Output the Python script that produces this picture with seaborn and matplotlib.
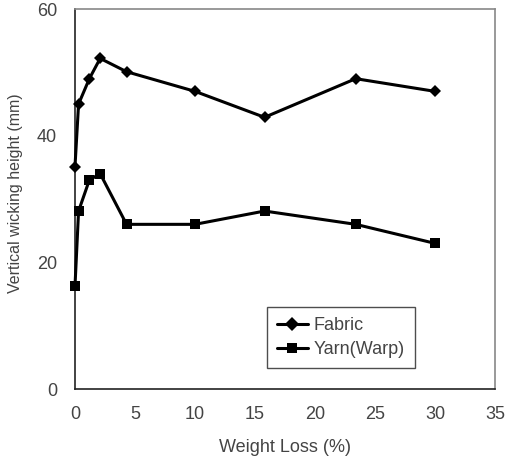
import pandas as pd
import matplotlib
matplotlib.use('Agg')
import matplotlib.pyplot as plt
import seaborn as sns

## datos
weight_loss = [0, 0.3, 1.2, 2.1, 4.3, 10, 15.8, 23.4, 30]
fabric = [35.1, 45.0, 49.0, 52.2, 50.1, 47.0, 42.9, 49.0, 47.0]
yarn = [16.2, 28.1, 33.0, 34.0, 26.0, 26.0, 28.1, 26.0, 23.0]
series_names = ['Fabric', 'Yarn(Warp)']

df = pd.DataFrame({
    'Weight Loss': weight_loss * 2,
    'Height': fabric + yarn,
    'Serie': [series_names[0]] * len(fabric) + [series_names[1]] * len(yarn),
})

sns.set_style('white')
plt.rcParams['font.family'] = ['Liberation Sans', 'DejaVu Sans']
txt = '#444444'

fig = plt.figure(figsize=(5.09, 4.62), dpi=100)
ax = fig.add_axes([0.1473, 0.158, 0.825, 0.8225])

sns.lineplot(data=df, x='Weight Loss', y='Height', hue='Serie', style='Serie',
             markers={'Fabric': 'D', 'Yarn(Warp)': 's'},
             dashes=False, palette={'Fabric': 'black', 'Yarn(Warp)': 'black'},
             markersize=7, linewidth=2.2, markeredgewidth=0, ax=ax)
# el rombo se ve un poco mas chico
ax.lines[0].set_markersize(6.5)
for ln in ax.lines:
    ln.set_clip_on(False)
    ln.set_zorder(5)

ax.set_xlim(0, 35)
ax.set_ylim(0, 60)
ax.set_xticks(range(0, 36, 5))
ax.set_yticks([0, 20, 40, 60])
ax.tick_params(direction='in', length=4, width=0.8, colors='#555555',
               labelcolor=txt, labelsize=13)
ax.tick_params(axis='x', pad=12)
ax.tick_params(axis='y', pad=13)

for s in ['left', 'bottom']:
    ax.spines[s].set_color('#222222')
    ax.spines[s].set_linewidth(1.2)
for s in ['top', 'right']:
    ax.spines[s].set_color('#888888')
    ax.spines[s].set_linewidth(1.2)

ax.set_xlabel('Weight Loss (%)', fontsize=13, color=txt, labelpad=12)
ax.set_ylabel('Vertical wicking height (mm)', fontsize=11.5, color=txt)
ax.yaxis.set_label_coords(-0.124, 0.516)

leg = ax.legend(loc='lower left', bbox_to_anchor=(0.457, 0.055), frameon=True,
                fancybox=False, edgecolor='#222222', fontsize=13,
                handlelength=1.7, handletextpad=0.35,
                borderpad=0.55, labelspacing=0.4, borderaxespad=0)
leg.get_frame().set_linewidth(1.0)
for t in leg.get_texts():
    t.set_color(txt)

plt.savefig('out.png', dpi=100)
